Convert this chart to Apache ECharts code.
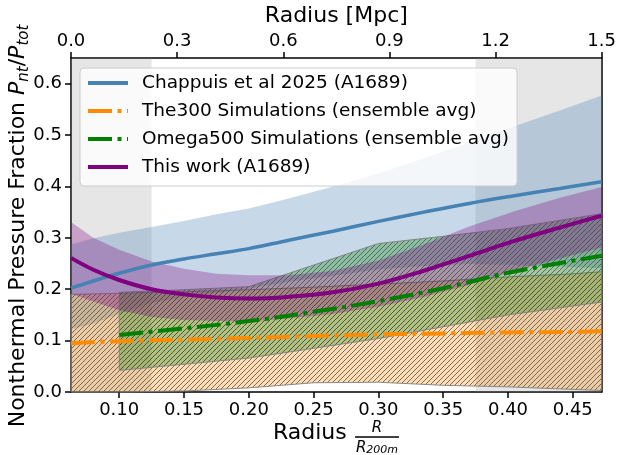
<!DOCTYPE html>
<html>
<head>
<meta charset="utf-8">
<script src="https://cdn.jsdelivr.net/npm/echarts@6/dist/echarts.min.js"></script>
<style>
html, body { margin: 0; padding: 0; background: #fff; }
#chart { width: 619px; height: 455px; }
</style>
</head>
<body>
<div id="chart"></div>
<script>
// radius in units of R / R200m
const rBand = [0.0628, 0.08, 0.10, 0.125, 0.15, 0.175, 0.20, 0.23, 0.265, 0.30, 0.335, 0.37, 0.405, 0.44, 0.4723];

// Chappuis et al 2025 (A1689)
const chappuisMid = [0.202, 0.216, 0.231, 0.247, 0.259, 0.269, 0.279, 0.295, 0.313, 0.332, 0.350, 0.367, 0.382, 0.396, 0.409];
const chappuisHi = [0.287, 0.299, 0.310, 0.321, 0.333, 0.346, 0.357, 0.376, 0.400, 0.425, 0.455, 0.485, 0.517, 0.548, 0.577];
const chappuisLo = [0.122, 0.133, 0.152, 0.173, 0.185, 0.192, 0.201, 0.214, 0.226, 0.239, 0.245, 0.249, 0.247, 0.244, 0.241];

// This work (A1689)
const thisWorkMid = [0.261, 0.238, 0.218, 0.200, 0.190, 0.184, 0.182, 0.185, 0.194, 0.211, 0.236, 0.265, 0.294, 0.320, 0.343];
const thisWorkHi = [0.331, 0.300, 0.277, 0.254, 0.240, 0.230, 0.227, 0.227, 0.236, 0.256, 0.287, 0.322, 0.352, 0.378, 0.399];
const thisWorkLo = [0.191, 0.176, 0.159, 0.146, 0.140, 0.138, 0.137, 0.143, 0.152, 0.166, 0.185, 0.208, 0.236, 0.260, 0.281];

// The300 Simulations
const rThe300 = [0.0628, 0.10, 0.15, 0.20, 0.25, 0.30, 0.35, 0.40, 0.45, 0.4723];
const the300Mid = [0.095, 0.099, 0.102, 0.105, 0.109, 0.112, 0.114, 0.116, 0.117, 0.118];
const the300Hi = [0.190, 0.192, 0.195, 0.199, 0.204, 0.210, 0.216, 0.224, 0.230, 0.234];
const the300Lo = [0.000, 0.000, 0.002, 0.008, 0.018, 0.019, 0.013, 0.010, 0.005, 0.003];

// Omega500 Simulations
const rOmega = [0.10, 0.15, 0.20, 0.25, 0.30, 0.35, 0.40, 0.4723];
const omegaMid = [0.111, 0.124, 0.138, 0.156, 0.177, 0.202, 0.232, 0.265];
const omegaHi = [0.194, 0.199, 0.205, 0.247, 0.289, 0.303, 0.318, 0.347];
const omegaLo = [0.042, 0.054, 0.066, 0.085, 0.104, 0.127, 0.150, 0.175];

// shaded radial ranges
const grayRanges = [[0.0628, 0.125], [0.375, 0.4723]];

const xTicks = [0.10, 0.15, 0.20, 0.25, 0.30, 0.35, 0.40, 0.45];
const yTicks = [0, 0.1, 0.2, 0.3, 0.4, 0.5, 0.6];

const FONT = 'DejaVu Sans';
const dashDot = [24, 5.5, 4, 5.5];

function hatch(fill) {
  const s = 5;
  const c = document.createElement('canvas');
  c.width = s;
  c.height = s;
  const g = c.getContext('2d');
  g.fillStyle = fill;
  g.fillRect(0, 0, s, s);
  g.strokeStyle = 'rgba(75,75,75,0.85)';
  g.lineWidth = 0.9;
  g.beginPath();
  g.moveTo(-1, s + 1); g.lineTo(s + 1, -1);
  g.moveTo(-1, 1); g.lineTo(1, -1);
  g.moveTo(s - 1, s + 1); g.lineTo(s + 1, s - 1);
  g.stroke();
  return c;
}

function band(xs, lo, hi, fill, stroke, z) {
  const rows = xs.map((x, i) => [x, lo[i], hi[i]]);
  return {
    type: 'custom',
    z: z,
    silent: true,
    data: rows,
    encode: { x: 0, y: [1, 2] },
    renderItem(params, api) {
      if (params.dataIndex !== 0) return;
      const top = rows.map(d => api.coord([d[0], d[2]]));
      const bot = rows.map(d => api.coord([d[0], d[1]])).reverse();
      return {
        type: 'polygon',
        shape: { points: top.concat(bot) },
        style: { fill: fill, stroke: stroke || null, lineWidth: stroke ? 1 : 0 }
      };
    }
  };
}

function line(name, xs, ys, color, width, type, smooth) {
  return {
    name: name,
    type: 'line',
    z: 5,
    data: xs.map((x, i) => [x, ys[i]]),
    symbol: 'none',
    smooth: smooth,
    lineStyle: { color: color, width: width, type: type },
    itemStyle: { color: color }
  };
}

const myChart = echarts.init(document.getElementById('chart'));

const option = {
  animation: false,
  textStyle: { fontFamily: FONT },
  grid: { left: 71, right: 16, top: 57, bottom: 63 },
  xAxis: [
    {
      type: 'value',
      position: 'bottom',
      min: 0.0628,
      max: 0.4723,
      axisLine: { onZero: false, lineStyle: { color: '#000', width: 1.5 } },
      axisTick: { customValues: xTicks, length: 6, lineStyle: { color: '#000', width: 1.5 } },
      axisLabel: { customValues: xTicks, formatter: v => v.toFixed(2), fontSize: 18, color: '#000', margin: 9 },
      splitLine: { show: false }
    },
    {
      type: 'value',
      position: 'top',
      min: 0,
      max: 1.5,
      interval: 0.3,
      name: 'Radius [Mpc]',
      nameLocation: 'middle',
      nameGap: 31,
      nameTextStyle: { fontSize: 22, color: '#000' },
      axisLine: { onZero: false, lineStyle: { color: '#000', width: 1.5 } },
      axisTick: { length: 6, lineStyle: { color: '#000', width: 1.5 } },
      axisLabel: { formatter: v => v.toFixed(1), fontSize: 18, color: '#000', margin: 8 },
      splitLine: { show: false }
    }
  ],
  yAxis: [
    {
      type: 'value',
      min: 0,
      max: 0.65,
      axisLine: { show: true, onZero: false, lineStyle: { color: '#000', width: 1.5 } },
      axisTick: { show: true, customValues: yTicks, length: 6, lineStyle: { color: '#000', width: 1.5 } },
      axisLabel: { customValues: yTicks, formatter: v => v.toFixed(1), fontSize: 18, color: '#000', margin: 9 },
      splitLine: { show: false }
    },
    {
      type: 'value',
      position: 'right',
      min: 0,
      max: 0.65,
      axisLine: { show: true, onZero: false, lineStyle: { color: '#000', width: 1.5 } },
      axisTick: { show: false },
      axisLabel: { show: false },
      splitLine: { show: false }
    }
  ],
  legend: {
    data: ['Chappuis et al 2025 (A1689)', 'The300 Simulations (ensemble avg)', 'Omega500 Simulations (ensemble avg)', 'This work (A1689)'],
    orient: 'vertical',
    left: 80,
    top: 68,
    itemWidth: 40,
    itemHeight: 14,
    itemGap: 8,
    padding: [5, 8, 9, 6],
    backgroundColor: 'rgba(255,255,255,0.8)',
    borderColor: '#cccccc',
    borderWidth: 1,
    borderRadius: 4,
    itemStyle: { opacity: 0 },
    lineStyle: { width: 4 },
    textStyle: { fontSize: 18.5, color: '#000', lineHeight: 20, padding: [0, 0, 0, 9] }
  },
  series: [
    {
      type: 'custom',
      z: 1,
      silent: true,
      data: grayRanges,
      encode: { x: [0, 1] },
      renderItem(params, api) {
        const a = api.coord([api.value(0), 0.65]);
        const b = api.coord([api.value(1), 0]);
        return {
          type: 'rect',
          shape: { x: a[0], y: a[1], width: b[0] - a[0], height: b[1] - a[1] },
          style: { fill: 'rgba(128,128,128,0.2)' }
        };
      }
    },
    band(rBand, chappuisLo, chappuisHi, 'rgba(70,130,180,0.3)', null, 2),
    band(rThe300, the300Lo, the300Hi, { image: hatch('rgba(255,140,0,0.3)'), repeat: 'repeat' }, 'rgba(128,128,128,0.9)', 2),
    band(rOmega, omegaLo, omegaHi, { image: hatch('rgba(0,128,0,0.3)'), repeat: 'repeat' }, 'rgba(128,128,128,0.9)', 2),
    band(rBand, thisWorkLo, thisWorkHi, 'rgba(128,0,128,0.3)', null, 2),
    line('Chappuis et al 2025 (A1689)', rBand, chappuisMid, '#4682b4', 3.5, 'solid', 0.4),
    line('The300 Simulations (ensemble avg)', rThe300, the300Mid, '#ff8c00', 4, dashDot, 0.4),
    line('Omega500 Simulations (ensemble avg)', rOmega, omegaMid, '#008000', 4, dashDot, 0.4),
    line('This work (A1689)', rBand, thisWorkMid, '#800080', 4, 'solid', 0.4)
  ],
  graphic: [
    {
      type: 'text',
      x: 18,
      y: 226,
      rotation: Math.PI / 2,
      style: {
        text: '{a|Nonthermal Pressure Fraction }{p|P}{s|nt}{a|/}{p|P}{s|tot}',
        align: 'center',
        verticalAlign: 'middle',
        rich: {
          a: { fontSize: 22, fontFamily: FONT, lineHeight: 28, fill: '#000' },
          p: { fontSize: 22, fontFamily: FONT, fontStyle: 'italic', lineHeight: 28, fill: '#000' },
          s: { fontSize: 15, fontFamily: FONT, fontStyle: 'italic', lineHeight: 15, verticalAlign: 'bottom', fill: '#000' }
        }
      }
    },
    {
      type: 'text',
      x: 273,
      y: 433,
      style: { text: 'Radius', font: '22px "DejaVu Sans"', fill: '#000', align: 'left', verticalAlign: 'middle' }
    },
    {
      type: 'text',
      x: 377,
      y: 428,
      style: { text: 'R', font: 'italic 15px "DejaVu Sans"', fill: '#000', align: 'center', verticalAlign: 'middle' }
    },
    {
      type: 'line',
      shape: { x1: 355, y1: 437, x2: 399, y2: 437 },
      style: { stroke: '#000', lineWidth: 1.3 }
    },
    {
      type: 'text',
      x: 377,
      y: 448,
      style: {
        text: '{r|R}{s|200m}',
        align: 'center',
        verticalAlign: 'middle',
        rich: {
          r: { fontSize: 15, fontFamily: FONT, fontStyle: 'italic', lineHeight: 16, fill: '#000' },
          s: { fontSize: 11, fontFamily: FONT, fontStyle: 'italic', lineHeight: 11, verticalAlign: 'bottom', fill: '#000' }
        }
      }
    }
  ]
};

myChart.setOption(option);
</script>
</body>
</html>
